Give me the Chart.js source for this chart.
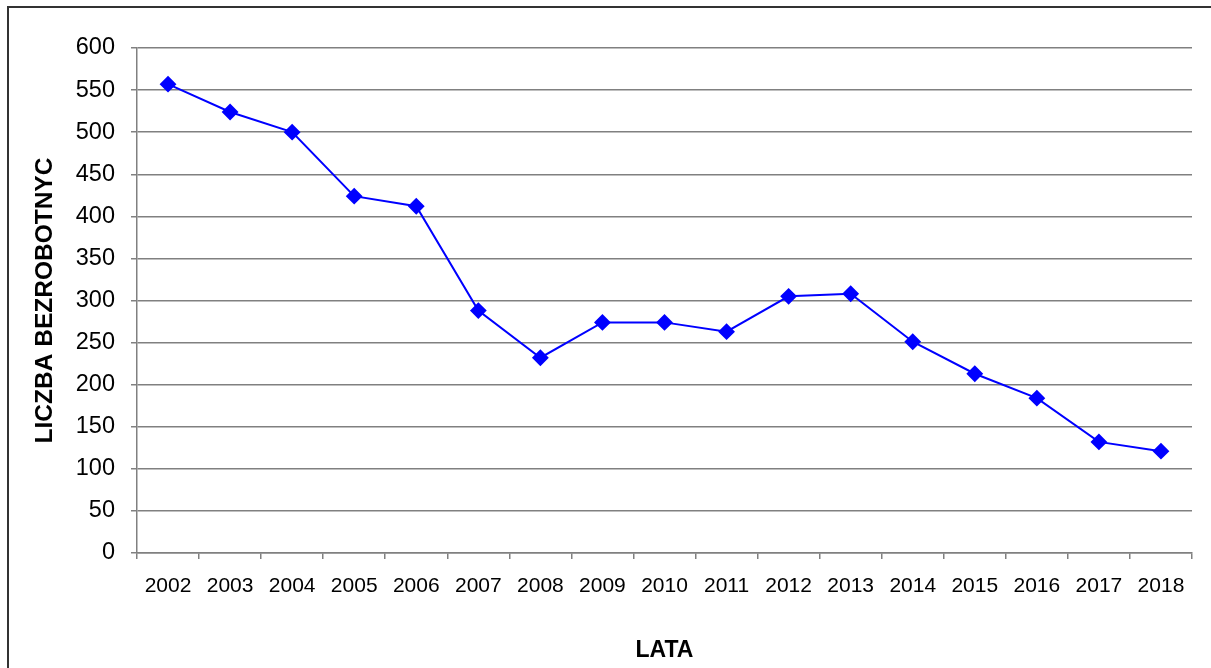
<!DOCTYPE html>
<html>
<head>
<meta charset="utf-8">
<script src="https://cdn.jsdelivr.net/npm/chart.js@4"></script>
<style>
  html, body { margin: 0; padding: 0; background: #fff; }
  #wrap { width: 1211px; height: 668px; position: relative; }
</style>
</head>
<body>
<div id="wrap"><canvas id="wykres" width="1211" height="668"></canvas></div>
<script>
const lata = ["2002", "2003", "2004", "2005", "2006", "2007", "2008", "2009", "2010", "2011", "2012", "2013", "2014", "2015", "2016", "2017", "2018"];
const bezrobotni = [557, 524, 500, 424, 412, 288, 232, 274, 274, 263, 305, 308, 251, 213, 184, 132, 121];
const osY = { min: 0, max: 600, krok: 50 };

// ramka dookoła wykresu (jak w Excelu)
const ramka = {
  id: 'ramka',
  beforeDraw(chart) {
    const ctx = chart.ctx;
    ctx.save();
    ctx.fillStyle = '#fff';
    ctx.fillRect(0, 0, chart.width, chart.height);
    ctx.strokeStyle = '#333';
    ctx.lineWidth = 2;
    ctx.strokeRect(8, 7, chart.width + 20, chart.height + 20);
    ctx.restore();
  }
};

new Chart(document.getElementById('wykres'), {
  type: 'line',
  data: {
    labels: lata,
    datasets: [{
      label: 'Liczba bezrobotnych',
      data: bezrobotni,
      borderColor: '#0000ff',
      backgroundColor: '#0000ff',
      borderWidth: 2,
      pointStyle: 'rectRot',
      pointRadius: 7,
      pointHoverRadius: 7,
      tension: 0
    }]
  },
  options: {
    responsive: false,
    animation: false,
    layout: { padding: { top: 48, right: 19, left: 0, bottom: 0 } },
    plugins: { legend: { display: false }, tooltip: { enabled: false } },
    scales: {
      x: {
        offset: true,
        afterFit(s) { s.height = 115; },
        grid: { offset: true, drawOnChartArea: false, drawTicks: true, tickLength: 6, color: '#808080', lineWidth: 1.5 },
        border: { color: '#808080', width: 1.5 },
        ticks: { color: '#000', font: { family: 'Arial, "Liberation Sans"', size: 21 }, padding: 15, maxRotation: 0, autoSkip: false },
        title: { display: true, text: 'LATA', color: '#000', font: { family: 'Arial, "Liberation Sans"', size: 23, weight: 'bold' }, padding: { top: 8 } }
      },
      y: {
        min: osY.min,
        max: osY.max,
        afterFit(s) { s.width = 137; },
        grid: { color: '#808080', lineWidth: 1.5, tickLength: 6 },
        border: { color: '#808080', width: 1.5 },
        ticks: { stepSize: osY.krok, color: '#000', font: { family: 'Arial, "Liberation Sans"', size: 23.5 }, padding: 16 },
        title: { display: true, text: 'LICZBA BEZROBOTNYC', color: '#000', font: { family: 'Arial, "Liberation Sans"', size: 24.5, weight: 'bold' }, padding: { top: 31 } }
      }
    }
  },
  plugins: [ramka]
});
</script>
</body>
</html>
